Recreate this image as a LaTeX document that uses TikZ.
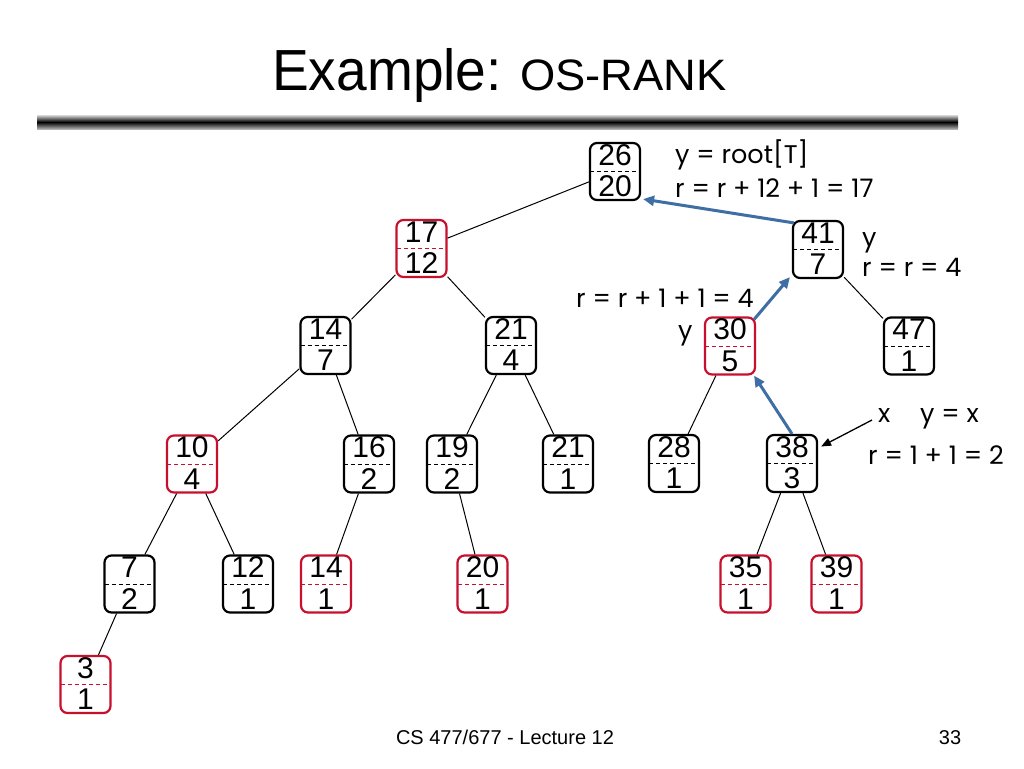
\documentclass[tikz,border=0pt]{standalone}
\usepackage{fontspec}
\usepackage{graphicx}
\setmainfont{Liberation Sans}
\newfontfamily\annfont{Poppins}
\usetikzlibrary{arrows.meta}
\definecolor{nred}{HTML}{C8102E}
\definecolor{ablue}{HTML}{3E6EA3}
\tikzset{
  bx/.style={draw, rounded corners=7pt, line width=2.2pt, minimum width=50pt, minimum height=57pt, inner sep=0pt},
  num/.style={font=\fontsize{30}{30}\selectfont, anchor=base, inner sep=0pt},
  edge/.style={line width=1pt},
  barrow/.style={ablue, line width=3pt, -{Triangle[length=11pt,width=10pt]}},
  karrow/.style={black, line width=1.3pt, -{Triangle[length=10pt,width=8pt]}},
  ann/.style={font=\annfont\fontsize{25.5}{25.5}\selectfont, anchor=base west, inner sep=0pt},
  foottext/.style={font=\fontsize{20}{20}\selectfont, anchor=base, inner sep=0pt},
}
\newcommand\tn[6]{%
  \node[bx,draw=#6] (#1) at (#2,#3) {};
  \draw[#6, line width=0.9pt, dash pattern=on 4pt off 3pt] ([xshift=1.2pt]#1.west) -- ([xshift=-1.2pt]#1.east);
  \node[num] (#1t) at ([yshift=6.5pt]#1.center) {#4};
  \node[num] (#1b) at ([yshift=-25pt]#1.center) {#5};
}
\begin{document}
\begin{tikzpicture}[x=1pt,y=-1pt]
\useasboundingbox[fill=white] (0,0) rectangle (1024,768);
% title
\node[anchor=base west, inner sep=0pt] (t1) at (272,90) {\fontsize{58}{58}\selectfont\scalebox{0.95}[1]{Example:}};
\node[anchor=base west, inner sep=0pt] (t2) at (520,90) {\fontsize{44}{44}\selectfont\scalebox{1.03}[1]{OS-RANK}};
\shade[top color=gray!30, bottom color=gray!60, middle color=black] (37,115) rectangle (958,129);
% nodes
\tn{n26}{615}{171.5}{26}{20}{black}
\tn{n17}{421.5}{248.5}{17}{12}{nred}
\tn{n41}{818}{249.5}{41}{7}{black}
\tn{n14}{325.5}{345.5}{14}{7}{black}
\tn{n21}{511}{345.5}{21}{4}{black}
\tn{n30}{730}{346}{30}{5}{nred}
\tn{n47}{909}{346}{47}{1}{black}
\tn{n10}{192}{464}{10}{4}{nred}
\tn{n16}{369}{464}{16}{2}{black}
\tn{n19}{452}{464}{19}{2}{black}
\tn{n21b}{568}{464}{21}{1}{black}
\tn{n28}{674}{463.5}{28}{1}{black}
\tn{n38}{792}{463.5}{38}{3}{black}
\tn{n7}{129.5}{584}{7}{2}{black}
\tn{n12}{248}{584}{12}{1}{black}
\tn{n14b}{326}{584}{14}{1}{nred}
\tn{n20}{482.5}{584}{20}{1}{nred}
\tn{n35}{745.5}{584}{35}{1}{nred}
\tn{n39}{836.5}{584}{39}{1}{nred}
\tn{n3}{85.5}{684.5}{3}{1}{nred}
% edges
\draw[edge] (n26) -- (n17);
\draw[edge] (n17) -- (n14);
\draw[edge] (n17) -- (n21);
\draw[edge] (n41) -- (n47);
\draw[edge] (n14) -- (n10);
\draw[edge] (n14) -- (n16);
\draw[edge] (n21) -- (n19);
\draw[edge] (n21) -- (n21b);
\draw[edge] (n30) -- (n28);
\draw[edge] (n10) -- (n7);
\draw[edge] (n10) -- (n12);
\draw[edge] (n16) -- (n14b);
\draw[edge] (n19) -- (n20);
\draw[edge] (n38) -- (n35);
\draw[edge] (n38) -- (n39);
\draw[edge] (n7) -- (n3);
% search path arrows
\draw[barrow] ([xshift=2pt,yshift=-3pt]n41.north west) -- ([xshift=2pt,yshift=2pt]n26.south east);
\draw[barrow] ([xshift=-2pt,yshift=-3pt]n30.north east) -- ([xshift=-2pt,yshift=2pt]n41.south west);
\draw[barrow] (n38.north) -- ([xshift=-2pt,yshift=0pt]n30.south east);
\coordinate (xstart) at (872,420);
\draw[karrow] (xstart) -- ([xshift=3pt,yshift=17pt]n38.east);
% annotations
\node[ann] (a1) at (675,163) {y = root[T]};
\node[ann] (a2) at (675,197) {r = r + 12 + 1 = 17};
\node[ann] (a3) at (862,246) {y};
\node[ann] (a4) at (862,276) {r = r = 4};
\node[ann] (a5) at (576,307) {r = r + 1 + 1 = 4};
\node[ann] (a6) at (678,339) {y};
\node[ann] (a7) at (878,422) {x};
\node[ann] (a8) at (920,422) {y = x};
\node[ann] (a9) at (868,464) {r = 1 + 1 = 2};
% footer
\node[foottext] (foot) at (505,744) {CS 477/677 - Lecture 12};
\node[foottext] (page) at (950,744) {33};
\end{tikzpicture}
\end{document}
